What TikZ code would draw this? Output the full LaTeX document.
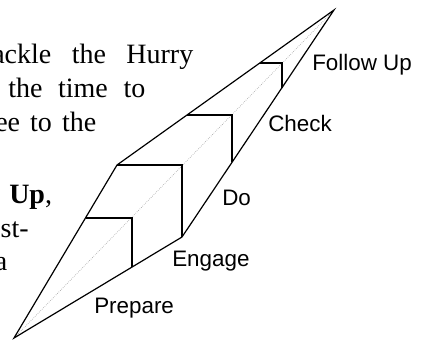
\documentclass[tikz,border=0pt]{standalone}
\usepackage{fontspec}
\setmainfont{Liberation Serif}
\newfontfamily\labelfont{Liberation Sans}
\usetikzlibrary{positioning}

\begin{document}
\begin{tikzpicture}[
        x=0.75pt, y=-0.75pt,
        edge/.style={line width=0.9pt, line join=miter},
        axis/.style={gray!70, line width=0.5pt, densely dotted},
        stage/.style={font=\labelfont\fontsize{16.8}{19}\selectfont, inner sep=0pt, anchor=base west},
        prose/.style={font=\fontsize{21}{25}\selectfont, inner sep=0pt}
    ]
        \useasboundingbox (0,0) rectangle (424,340);
        \clip (0,0) rectangle (424,340);

        % Cropped paragraph on the left
        \node[prose, anchor=base west] (p1) at (-8,63) {\makebox[150.75pt][s]{ackle the Hurry}};
        \node[prose, anchor=base west] (p2) at (8,97) {\makebox[102.75pt][s]{the time to}};
        \node[prose, anchor=base west] (p3) at (-5,131) {\makebox[75.75pt][s]{ee to the}};
        \node[prose, anchor=base west] (p4) at (9,203) {\textbf{Up},};
        \node[prose, anchor=base east] (p5) at (29,237) {ost-};
        \node[prose, anchor=base east] (p6) at (7.5,270) {a};

        % Outline of the dart
        \coordinate (tip) at (14,338);
        \coordinate (apex) at (334,10);
        \coordinate (kneeL) at (117,165);
        \coordinate (kneeR) at (182,237);
        \draw[axis] (tip) -- (apex);
        \draw[edge] (tip) -- (kneeL) -- (apex) -- (kneeR) -- cycle;

        % Steps
        \coordinate (s1a) at (85.5,218);
        \coordinate (s1b) at (132,218);
        \coordinate (s1c) at (132,267);
        \coordinate (s2b) at (182,165);
        \coordinate (s3a) at (187,115);
        \coordinate (s3b) at (232,115);
        \coordinate (s3c) at (232,162.3);
        \coordinate (s4a) at (259.8,63);
        \coordinate (s4b) at (282,63);
        \coordinate (s4c) at (282,87.7);
        \draw[edge] (s1a) -- (s1b) -- (s1c);
        \draw[edge] (kneeL) -- (s2b) -- (kneeR);
        \draw[edge] (s3a) -- (s3b) -- (s3c);
        \draw[edge] (s4a) -- (s4b) -- (s4c);

        % Stage labels
        \node[stage] (prep) at (94,313) {Prepare};
        \node[stage] (eng) at (172,266) {Engage};
        \node[stage] (do) at (222,205) {Do};
        \node[stage] (chk) at (268,131) {Check};
        \node[stage] (fol) at (312,70) {Follow Up};
    \end{tikzpicture}
\end{document}
